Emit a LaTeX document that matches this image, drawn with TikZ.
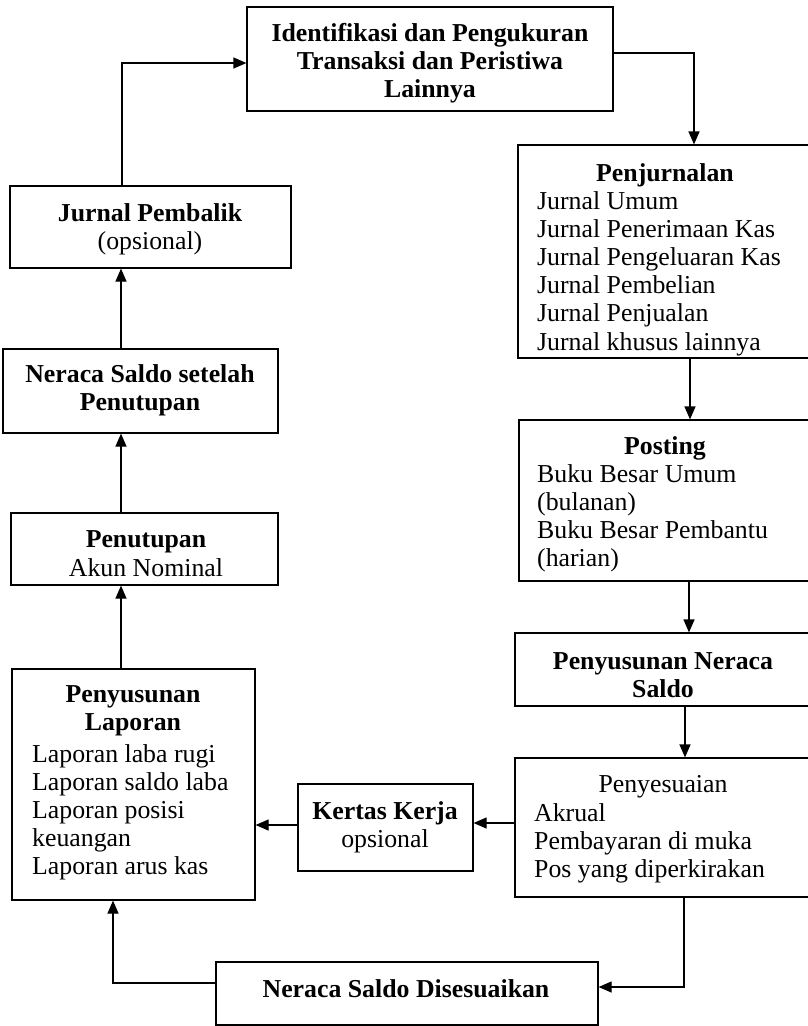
\documentclass[tikz,border=0pt]{standalone}
\usepackage{fontspec}
\setmainfont{Liberation Serif}
\usetikzlibrary{arrows.meta}
\newcommand\fs{\fontsize{25.8}{28.2}\selectfont}
% box from (x1,y1) to (x2,y2): \bx{name}{x1}{y1}{x2}{y2}
\newcommand\bx[5]{\node[box,minimum width={#4-#2},minimum height={#5-#3}] (#1) at ({(#2+#4)/2},{(#3+#5)/2}) {};}
\begin{document}
\begin{tikzpicture}[x=1pt,y=-1pt,
  box/.style={draw, line width=1.2pt, inner sep=0pt},
  txt/.style={inner sep=0pt, font=\fs},
  ttl/.style={txt, font=\fs\bfseries, anchor=base},
  ctr/.style={txt, anchor=base},
  lst/.style={txt, anchor=base west},
  arr/.style={line width=1.2pt, -{Triangle[length=13pt,width=11pt]}}]
\useasboundingbox (0,0) rectangle (807,1026);

% boxes
\bx{id}{247}{7}{613}{111}
\bx{pj}{518}{145}{809}{358}
\bx{ps}{519}{420}{809}{581}
\bx{ns}{515}{633}{809}{706}
\bx{py}{515}{758}{809}{897}
\bx{kk}{298}{784}{473}{871}
\bx{pl}{12}{669}{255}{900}
\bx{nd}{216}{962}{598}{1025}
\bx{pt}{11}{513}{278}{585}
\bx{nsp}{3}{349}{278}{433}
\bx{jp}{10}{186}{291}{268}

% texts
\node[ttl] (id-t) at (430,41) {\begin{tabular}[t]{@{}c@{}}Identifikasi dan Pengukuran\\ Transaksi dan Peristiwa\\ Lainnya\end{tabular}};

\node[ttl] (pj-t) at (665,181) {Penjurnalan};
\node[lst] (pj-l) at (537,209) {\begin{tabular}[t]{@{}l@{}}Jurnal Umum\\ Jurnal Penerimaan Kas\\ Jurnal Pengeluaran Kas\\ Jurnal Pembelian\\ Jurnal Penjualan\\ Jurnal khusus lainnya\end{tabular}};

\node[ttl] (ps-t) at (665,454) {Posting};
\node[lst] (ps-l) at (537,482) {\begin{tabular}[t]{@{}l@{}}Buku Besar Umum\\ (bulanan)\\ Buku Besar Pembantu\\ (harian)\end{tabular}};

\node[ttl] (ns-t) at (663,669) {\begin{tabular}[t]{@{}c@{}}Penyusunan Neraca\\ Saldo\end{tabular}};

\node[ctr] (py-t) at (663,792) {Penyesuaian};
\node[lst] (py-l) at (534,821) {\begin{tabular}[t]{@{}l@{}}Akrual\\ Pembayaran di muka\\ Pos yang diperkirakan\end{tabular}};

\node[ttl] (kk-t) at (385,819) {Kertas Kerja};
\node[ctr] (kk-s) at (385,847) {opsional};

\node[ttl] (pl-t) at (133,702) {\begin{tabular}[t]{@{}c@{}}Penyusunan\\ Laporan\end{tabular}};
\node[lst] (pl-l) at (32,762) {\begin{tabular}[t]{@{}l@{}}Laporan laba rugi\\ Laporan saldo laba\\ Laporan posisi\\ keuangan\\ Laporan arus kas\end{tabular}};

\node[ttl] (nd-t) at (406,997) {Neraca Saldo Disesuaikan};

\node[ttl] (pt-t) at (146,547) {Penutupan};
\node[ctr] (pt-s) at (146,576) {Akun Nominal};

\node[ttl] (nsp-t) at (140,382) {\begin{tabular}[t]{@{}c@{}}Neraca Saldo setelah\\ Penutupan\end{tabular}};

\node[ttl] (jp-t) at (150,221) {Jurnal Pembalik};
\node[ctr] (jp-s) at (150,249) {(opsional)};

% connectors
\coordinate (k1) at (694,53);
\draw[arr] (id.east |- k1) -- (k1) -- (pj.north -| k1);
\coordinate (k2) at (690,0);
\draw[arr] (pj.south -| k2) -- (ps.north -| k2);
\coordinate (k3) at (689,0);
\draw[arr] (ps.south -| k3) -- (ns.north -| k3);
\coordinate (k4) at (685,0);
\draw[arr] (ns.south -| k4) -- (py.north -| k4);
\coordinate (k5) at (0,823);
\draw[arr] (py.west |- k5) -- (kk.east |- k5);
\coordinate (k6) at (0,825);
\draw[arr] (kk.west |- k6) -- (pl.east |- k6);
\coordinate (k7) at (684,987);
\draw[arr] (py.south -| k7) -- (k7) -- (nd.east |- k7);
\coordinate (k8) at (113,983);
\draw[arr] (nd.west |- k8) -- (k8) -- (pl.south -| k8);
\coordinate (k9) at (121,0);
\draw[arr] (pl.north -| k9) -- (pt.south -| k9);
\draw[arr] (pt.north -| k9) -- (nsp.south -| k9);
\draw[arr] (nsp.north -| k9) -- (jp.south -| k9);
\coordinate (k10) at (122,63);
\draw[arr] (jp.north -| k10) -- (k10) -- (id.west |- k10);
\end{tikzpicture}
\end{document}
